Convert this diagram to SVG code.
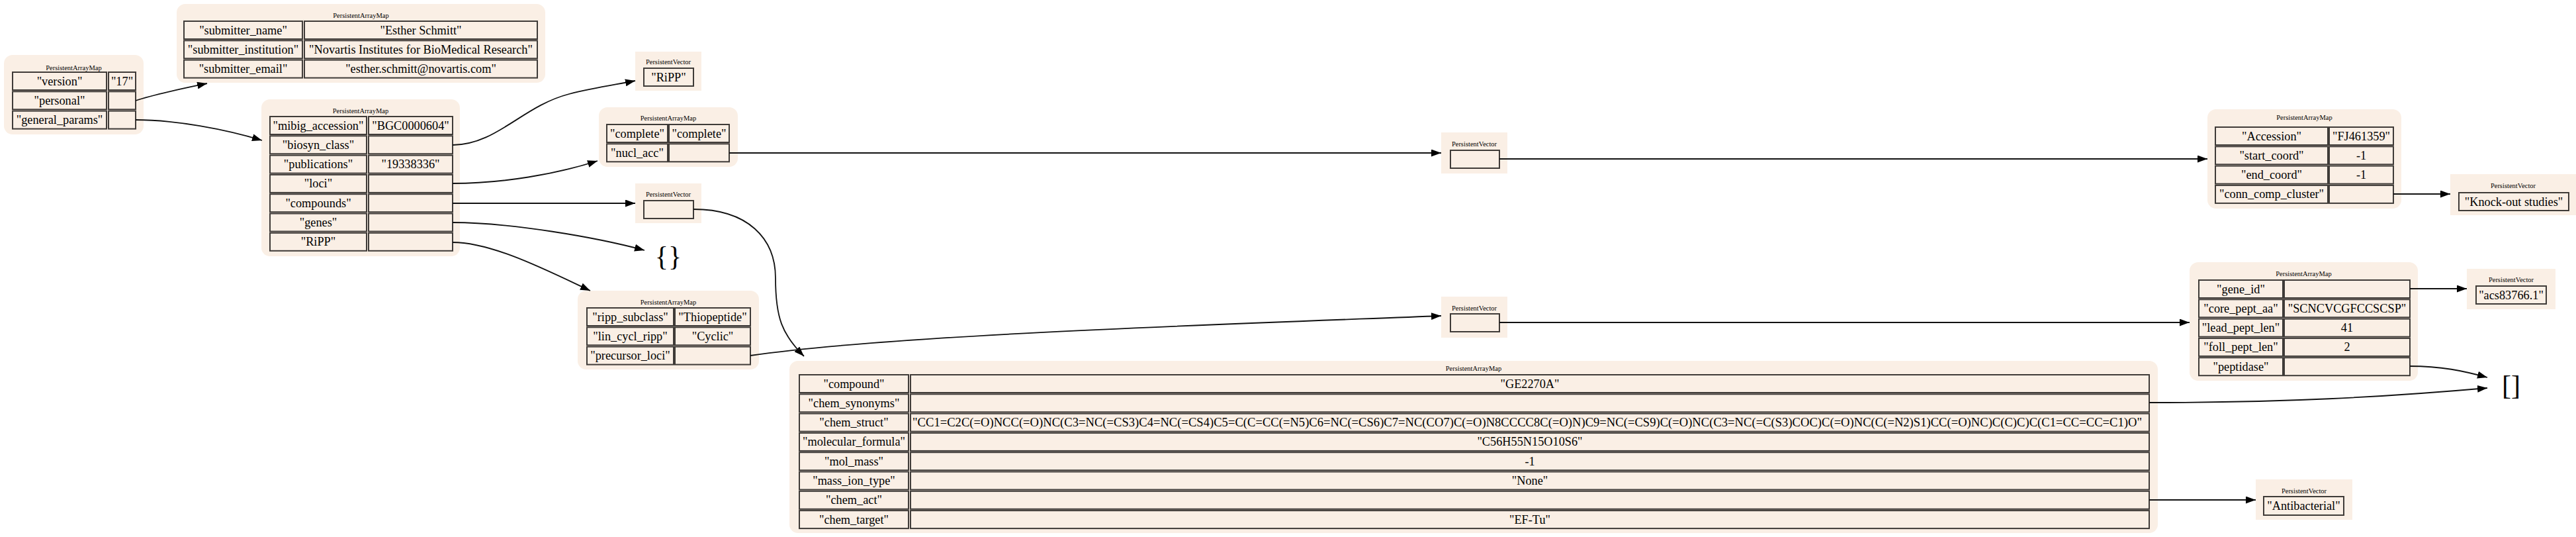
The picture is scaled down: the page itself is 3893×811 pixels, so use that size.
<svg xmlns="http://www.w3.org/2000/svg" width="3893" height="811" viewBox="0 0 3893 811">
<style>
.bg{fill:#faefe5;stroke:none}
.c{fill:#faefe5;stroke:#3f3b38;stroke-width:2}
.t{font-family:"Liberation Serif",serif;font-size:18.3px;text-anchor:middle;fill:#000}
.h{font-family:"Liberation Serif",serif;font-size:10.5px;text-anchor:middle;fill:#000}
.big{font-family:"Liberation Serif",serif;font-size:42px;text-anchor:middle;fill:#000}
.e{fill:none;stroke:#111;stroke-width:1.8}
</style>
<defs>
<marker id="ah" markerUnits="userSpaceOnUse" markerWidth="16" markerHeight="11" refX="15" refY="5.5" orient="auto">
<path d="M0,0 L15,5.5 L0,11 z" fill="#000"/>
</marker>
</defs>
<rect width="3893" height="811" fill="#fff"/>

<g id="node-root">
<rect class="bg" x="6" y="83" width="211" height="120" rx="13"/>
<text class="h" x="111.5" y="106">PersistentArrayMap</text>
<rect class="c" x="19" y="109" width="142" height="27"/><rect class="c" x="164" y="109" width="41" height="27"/>
<rect class="c" x="19" y="138.3" width="142" height="27"/><rect class="c" x="164" y="138.3" width="41" height="27"/>
<rect class="c" x="19" y="167.6" width="142" height="27"/><rect class="c" x="164" y="167.6" width="41" height="27"/>
<text class="t" x="90" y="128.5">"version"</text><text class="t" x="184.5" y="128.5">"17"</text>
<text class="t" x="90" y="157.8">"personal"</text>
<text class="t" x="90" y="187.1">"general_params"</text>
</g>

<g id="node-personal">
<rect class="bg" x="267" y="6" width="557" height="119" rx="13"/>
<text class="h" x="545.5" y="27">PersistentArrayMap</text>
<rect class="c" x="278" y="32" width="179" height="27"/><rect class="c" x="460" y="32" width="352" height="27"/>
<rect class="c" x="278" y="61.3" width="179" height="27"/><rect class="c" x="460" y="61.3" width="352" height="27"/>
<rect class="c" x="278" y="90.6" width="179" height="27"/><rect class="c" x="460" y="90.6" width="352" height="27"/>
<text class="t" x="367.5" y="51.5">"submitter_name"</text><text class="t" x="636" y="51.5">"Esther Schmitt"</text>
<text class="t" x="367.5" y="80.8">"submitter_institution"</text><text class="t" x="636" y="80.8">"Novartis Institutes for BioMedical Research"</text>
<text class="t" x="367.5" y="110.1">"submitter_email"</text><text class="t" x="636" y="110.1">"esther.schmitt@novartis.com"</text>
</g>

<g id="node-general-params">
<rect class="bg" x="395" y="150" width="300" height="237" rx="13"/>
<text class="h" x="545" y="171">PersistentArrayMap</text>
<rect class="c" x="408" y="176" width="146" height="27"/><rect class="c" x="557" y="176" width="127" height="27"/>
<rect class="c" x="408" y="205.3" width="146" height="27"/><rect class="c" x="557" y="205.3" width="127" height="27"/>
<rect class="c" x="408" y="234.6" width="146" height="27"/><rect class="c" x="557" y="234.6" width="127" height="27"/>
<rect class="c" x="408" y="263.9" width="146" height="27"/><rect class="c" x="557" y="263.9" width="127" height="27"/>
<rect class="c" x="408" y="293.2" width="146" height="27"/><rect class="c" x="557" y="293.2" width="127" height="27"/>
<rect class="c" x="408" y="322.5" width="146" height="27"/><rect class="c" x="557" y="322.5" width="127" height="27"/>
<rect class="c" x="408" y="351.8" width="146" height="27"/><rect class="c" x="557" y="351.8" width="127" height="27"/>
<text class="t" x="481" y="195.5">"mibig_accession"</text><text class="t" x="620.5" y="195.5">"BGC0000604"</text>
<text class="t" x="481" y="224.8">"biosyn_class"</text>
<text class="t" x="481" y="254.1">"publications"</text><text class="t" x="620.5" y="254.1">"19338336"</text>
<text class="t" x="481" y="283.4">"loci"</text>
<text class="t" x="481" y="312.7">"compounds"</text>
<text class="t" x="481" y="342">"genes"</text>
<text class="t" x="481" y="371.3">"RiPP"</text>
</g>

<g id="node-biosyn-class">
<rect class="bg" x="960" y="78" width="100" height="59"/>
<text class="h" x="1010" y="96.5">PersistentVector</text>
<rect class="c" x="973" y="103" width="75" height="27"/>
<text class="t" x="1010.5" y="122.5">"RiPP"</text>
</g>

<g id="node-loci">
<rect class="bg" x="905" y="162" width="210" height="90" rx="13"/>
<text class="h" x="1010" y="182">PersistentArrayMap</text>
<rect class="c" x="917" y="188" width="92" height="27"/><rect class="c" x="1011" y="188" width="91" height="27"/>
<rect class="c" x="917" y="217.3" width="92" height="27"/><rect class="c" x="1011" y="217.3" width="91" height="27"/>
<text class="t" x="963" y="207.5">"complete"</text><text class="t" x="1056.5" y="207.5">"complete"</text>
<text class="t" x="963" y="236.8">"nucl_acc"</text>
</g>

<g id="node-compounds">
<rect class="bg" x="960" y="277" width="100" height="60"/>
<text class="h" x="1010" y="297">PersistentVector</text>
<rect class="c" x="973" y="303" width="75" height="27"/>
</g>

<g id="node-genes">
<text class="big" x="1010" y="401">{}</text>
</g>

<g id="node-ripp">
<rect class="bg" x="873" y="439" width="274" height="119" rx="13"/>
<text class="h" x="1010" y="460">PersistentArrayMap</text>
<rect class="c" x="887" y="465" width="131" height="27"/><rect class="c" x="1020" y="465" width="114" height="27"/>
<rect class="c" x="887" y="494.3" width="131" height="27"/><rect class="c" x="1020" y="494.3" width="114" height="27"/>
<rect class="c" x="887" y="523.6" width="131" height="27"/><rect class="c" x="1020" y="523.6" width="114" height="27"/>
<text class="t" x="952.5" y="484.5">"ripp_subclass"</text><text class="t" x="1077" y="484.5">"Thiopeptide"</text>
<text class="t" x="952.5" y="513.8">"lin_cycl_ripp"</text><text class="t" x="1077" y="513.8">"Cyclic"</text>
<text class="t" x="952.5" y="543.1">"precursor_loci"</text>
</g>

<g id="node-nucl-acc">
<rect class="bg" x="2178" y="200" width="100" height="62"/>
<text class="h" x="2228" y="221">PersistentVector</text>
<rect class="c" x="2192" y="227" width="74" height="27"/>
</g>

<g id="node-accession">
<rect class="bg" x="3336" y="165" width="293" height="150" rx="13"/>
<text class="h" x="3482.5" y="181">PersistentArrayMap</text>
<rect class="c" x="3348" y="192" width="170" height="27"/><rect class="c" x="3520" y="192" width="97" height="27"/>
<rect class="c" x="3348" y="221.3" width="170" height="27"/><rect class="c" x="3520" y="221.3" width="97" height="27"/>
<rect class="c" x="3348" y="250.6" width="170" height="27"/><rect class="c" x="3520" y="250.6" width="97" height="27"/>
<rect class="c" x="3348" y="279.9" width="170" height="27"/><rect class="c" x="3520" y="279.9" width="97" height="27"/>
<text class="t" x="3433" y="211.5">"Accession"</text><text class="t" x="3568.5" y="211.5">"FJ461359"</text>
<text class="t" x="3433" y="240.8">"start_coord"</text><text class="t" x="3568.5" y="240.8">-1</text>
<text class="t" x="3433" y="270.1">"end_coord"</text><text class="t" x="3568.5" y="270.1">-1</text>
<text class="t" x="3433" y="299.4">"conn_comp_cluster"</text>
</g>

<g id="node-knockout">
<rect class="bg" x="3703" y="263" width="190" height="62"/>
<text class="h" x="3798" y="284">PersistentVector</text>
<rect class="c" x="3716" y="291" width="166" height="27"/>
<text class="t" x="3799" y="310.5">"Knock-out studies"</text>
</g>

<g id="node-precursor-loci">
<rect class="bg" x="2178" y="448" width="100" height="62"/>
<text class="h" x="2228" y="469">PersistentVector</text>
<rect class="c" x="2192" y="474" width="74" height="27"/>
</g>

<g id="node-gene">
<rect class="bg" x="3309" y="396" width="345" height="179" rx="13"/>
<text class="h" x="3481.5" y="417">PersistentArrayMap</text>
<rect class="c" x="3323" y="423" width="127" height="27"/><rect class="c" x="3452" y="423" width="190" height="27"/>
<rect class="c" x="3323" y="452.3" width="127" height="27"/><rect class="c" x="3452" y="452.3" width="190" height="27"/>
<rect class="c" x="3323" y="481.6" width="127" height="27"/><rect class="c" x="3452" y="481.6" width="190" height="27"/>
<rect class="c" x="3323" y="510.9" width="127" height="27"/><rect class="c" x="3452" y="510.9" width="190" height="27"/>
<rect class="c" x="3323" y="540.2" width="127" height="27"/><rect class="c" x="3452" y="540.2" width="190" height="27"/>
<text class="t" x="3386.5" y="442.5">"gene_id"</text>
<text class="t" x="3386.5" y="471.8">"core_pept_aa"</text><text class="t" x="3547" y="471.8">"SCNCVCGFCCSCSP"</text>
<text class="t" x="3386.5" y="501.1">"lead_pept_len"</text><text class="t" x="3547" y="501.1">41</text>
<text class="t" x="3386.5" y="530.4">"foll_pept_len"</text><text class="t" x="3547" y="530.4">2</text>
<text class="t" x="3386.5" y="559.7">"peptidase"</text>
</g>

<g id="node-gene-id">
<rect class="bg" x="3728" y="406" width="134" height="61"/>
<text class="h" x="3795" y="426">PersistentVector</text>
<rect class="c" x="3742" y="432" width="106" height="27"/>
<text class="t" x="3795" y="451.5">"acs83766.1"</text>
</g>

<g id="node-empty-vector">
<text class="big" x="3795" y="596">[]</text>
</g>

<g id="node-compound">
<rect class="bg" x="1193" y="545" width="2068" height="260" rx="13"/>
<text class="h" x="2227" y="560">PersistentArrayMap</text>
<rect class="c" x="1208" y="566" width="165" height="27"/><rect class="c" x="1376" y="566" width="1872" height="27"/>
<rect class="c" x="1208" y="595.3" width="165" height="27"/><rect class="c" x="1376" y="595.3" width="1872" height="27"/>
<rect class="c" x="1208" y="624.6" width="165" height="27"/><rect class="c" x="1376" y="624.6" width="1872" height="27"/>
<rect class="c" x="1208" y="653.9" width="165" height="27"/><rect class="c" x="1376" y="653.9" width="1872" height="27"/>
<rect class="c" x="1208" y="683.2" width="165" height="27"/><rect class="c" x="1376" y="683.2" width="1872" height="27"/>
<rect class="c" x="1208" y="712.5" width="165" height="27"/><rect class="c" x="1376" y="712.5" width="1872" height="27"/>
<rect class="c" x="1208" y="741.8" width="165" height="27"/><rect class="c" x="1376" y="741.8" width="1872" height="27"/>
<rect class="c" x="1208" y="771.1" width="165" height="27"/><rect class="c" x="1376" y="771.1" width="1872" height="27"/>
<text class="t" x="1290.5" y="585.5">"compound"</text><text class="t" x="2312" y="585.5">"GE2270A"</text>
<text class="t" x="1290.5" y="614.8">"chem_synonyms"</text>
<text class="t" x="1290.5" y="644.1">"chem_struct"</text><text class="t" x="2308" y="644.1" textLength="1858" lengthAdjust="spacingAndGlyphs">"CC1=C2C(=O)NCC(=O)NC(C3=NC(=CS3)C4=NC(=CS4)C5=C(C=CC(=N5)C6=NC(=CS6)C7=NC(CO7)C(=O)N8CCCC8C(=O)N)C9=NC(=CS9)C(=O)NC(C3=NC(=C(S3)COC)C(=O)NC(C(=N2)S1)CC(=O)NC)C(C)C)C(C1=CC=CC=C1)O"</text>
<text class="t" x="1290.5" y="673.4">"molecular_formula"</text><text class="t" x="2312" y="673.4">"C56H55N15O10S6"</text>
<text class="t" x="1290.5" y="702.7">"mol_mass"</text><text class="t" x="2312" y="702.7">-1</text>
<text class="t" x="1290.5" y="732">"mass_ion_type"</text><text class="t" x="2312" y="732">"None"</text>
<text class="t" x="1290.5" y="761.3">"chem_act"</text>
<text class="t" x="1290.5" y="790.6">"chem_target"</text><text class="t" x="2312" y="790.6">"EF-Tu"</text>
</g>

<g id="node-chem-act">
<rect class="bg" x="3409" y="724" width="146" height="61"/>
<text class="h" x="3482" y="745">PersistentVector</text>
<rect class="c" x="3421" y="750" width="121" height="28"/>
<text class="t" x="3481.5" y="770">"Antibacterial"</text>
</g>

<g id="connectors">
<path class="e" marker-end="url(#ah)" d="M205,152 C235,142 275,134 313,126"/>
<path class="e" marker-end="url(#ah)" d="M205,181 C265,181 340,195 396,212"/>
<path class="e" marker-end="url(#ah)" d="M684,219 C750,219 790,160 860,142 C900,132 930,128 960,122"/>
<path class="e" marker-end="url(#ah)" d="M684,277 C760,277 840,263 903,243"/>
<path class="e" marker-end="url(#ah)" d="M684,307 L960,307"/>
<path class="e" marker-end="url(#ah)" d="M684,336 C770,336 900,358 974,378"/>
<path class="e" marker-end="url(#ah)" d="M684,366 C745,366 830,410 892,439"/>
<path class="e" marker-end="url(#ah)" d="M1102,231 L2178,231"/>
<path class="e" marker-end="url(#ah)" d="M1048,316 C1130,316 1172,360 1172,420 C1172,480 1182,505 1215,538"/>
<path class="e" marker-end="url(#ah)" d="M1134,537 C1350,505 1900,488 2178,477"/>
<path class="e" marker-end="url(#ah)" d="M2266,240 L3336,240"/>
<path class="e" marker-end="url(#ah)" d="M3617,293 L3703,293"/>
<path class="e" marker-end="url(#ah)" d="M2266,487 L3309,487"/>
<path class="e" marker-end="url(#ah)" d="M3642,436 L3728,436"/>
<path class="e" marker-end="url(#ah)" d="M3642,553 C3690,553 3722,560 3759,570"/>
<path class="e" marker-end="url(#ah)" d="M3248,608 C3450,608 3600,600 3759,586"/>
<path class="e" marker-end="url(#ah)" d="M3248,755 L3409,755"/>
</g>
</svg>
